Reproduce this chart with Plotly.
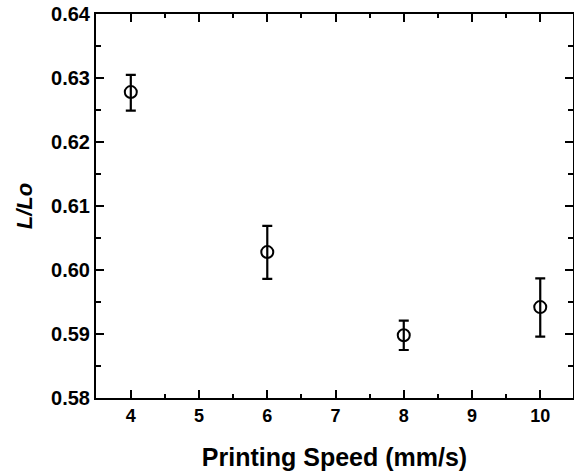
import plotly.graph_objects as go

speed = [4, 6, 8, 10]
ratio = [0.6278, 0.6028, 0.5898, 0.5942]
err_plus = [0.0027, 0.0041, 0.0023, 0.0045]
err_minus = [0.0029, 0.0042, 0.0023, 0.0046]

x_ticks = [4, 5, 6, 7, 8, 9, 10]
y_ticks = [0.58, 0.59, 0.60, 0.61, 0.62, 0.63, 0.64]
y_tick_text = ["0.58", "0.59", "0.60", "0.61", "0.62", "0.63", "0.64"]

FONT = "Liberation Sans, Arial, sans-serif"

fig = go.Figure(go.Scatter(
    x=speed, y=ratio, mode="markers",
    marker=dict(symbol="circle-open", size=12, color="black", line=dict(width=2, color="black")),
    error_y=dict(type="data", symmetric=False, array=err_plus, arrayminus=err_minus,
                 color="black", thickness=2.2, width=5),
    showlegend=False,
))

fig.update_layout(
    width=574, height=473,
    margin=dict(l=96, r=1, t=14, b=75),
    plot_bgcolor="white", paper_bgcolor="white",
    font=dict(family=FONT, color="black"),
)
fig.update_xaxes(
    range=[3.49, 10.48], tickvals=x_ticks, automargin=False,
    ticks="inside", ticklen=8, tickwidth=2, tickcolor="black",
    minor=dict(dtick=0.5, tick0=0, ticks="inside", ticklen=4, tickwidth=2, tickcolor="black"),
    showline=True, linewidth=2, linecolor="black", mirror="ticks",
    showgrid=False, zeroline=False,
    tickfont=dict(family=FONT, size=18, color="black", weight="bold"),
    title=dict(text="<b>Printing Speed (mm/s)</b>", font=dict(family=FONT, size=25, color="black"), standoff=24),
)
fig.update_yaxes(
    range=[0.58, 0.64], tickvals=y_ticks, ticktext=y_tick_text, automargin=False,
    ticks="inside", ticklen=8, tickwidth=2, tickcolor="black",
    minor=dict(dtick=0.005, tick0=0, ticks="inside", ticklen=5, tickwidth=2, tickcolor="black"),
    showline=True, linewidth=2, linecolor="black", mirror="ticks",
    showgrid=False, zeroline=False,
    tickfont=dict(family=FONT, size=20, color="black", weight="bold"),
    title=dict(text="<b><i>L/Lo</i></b>", font=dict(family=FONT, size=22, color="black"), standoff=12),
)

fig.write_html("out.html", config={"displayModeBar": False},
               post_script="document.body.style.margin='0';")
